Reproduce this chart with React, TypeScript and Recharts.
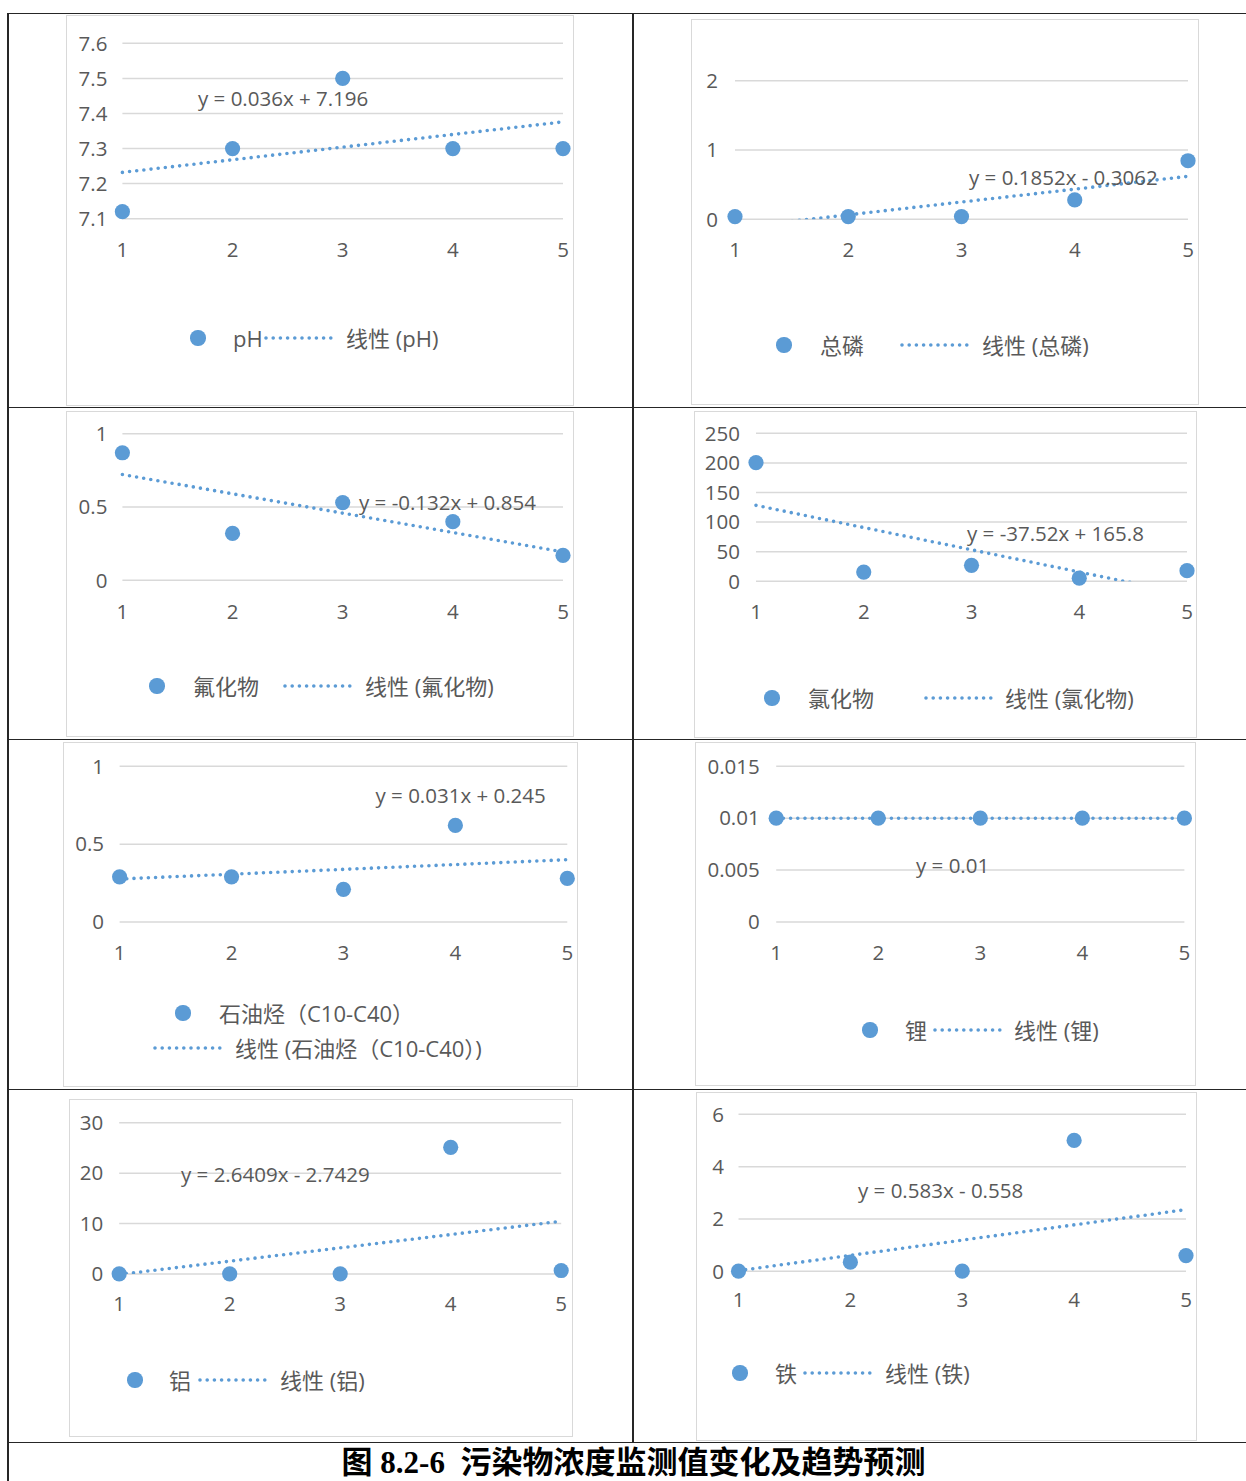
import { ComposedChart, Scatter, Line, XAxis, YAxis, CartesianGrid } from 'recharts';

// sampling rounds 1..5
const xTicks = [1, 2, 3, 4, 5];

// monitored values per pollutant
const phValues = [7.12, 7.3, 7.5, 7.3, 7.3];
const phosphorusValues = [0.04, 0.04, 0.04, 0.28, 0.845];
const fluorideValues = [0.87, 0.32, 0.53, 0.4, 0.17];
const chlorideValues = [200.5, 15.5, 27, 5.2, 18];
const petroleumValues = [0.29, 0.29, 0.21, 0.62, 0.28];
const lithiumValues = [0.01, 0.01, 0.01, 0.01, 0.01];
const aluminumValues = [0.03, 0.03, 0.03, 25.12, 0.69];
const ironValues = [0.005, 0.35, 0.005, 5.0, 0.6];

// y axis ticks
const phTicks = [7.1, 7.2, 7.3, 7.4, 7.5, 7.6];
const phosphorusTicks = [0, 1, 2];
const fluorideTicks = [0, 0.5, 1];
const chlorideTicks = [0, 50, 100, 150, 200, 250];
const petroleumTicks = [0, 0.5, 1];
const lithiumTicks = [0, 0.005, 0.01, 0.015];
const aluminumTicks = [0, 10, 20, 30];
const ironTicks = [0, 2, 4, 6];

// linear trend lines [slope, intercept] as printed on the charts
const phFit = [0.036, 7.196];
const phosphorusFit = [0.1852, -0.3062];
const fluorideFit = [-0.132, 0.854];
const chlorideFit = [-37.52, 165.8];
const petroleumFit = [0.031, 0.245];
const lithiumFit = [0, 0.01];
const aluminumFit = [2.6409, -2.7429];
const ironFit = [0.583, -0.558];

const names = ['pH', '总磷', '氟化物', '氯化物', '石油烃（C10-C40）', '锂', '铝', '铁'];
const equations = [
  'y = 0.036x + 7.196',
  'y = 0.1852x - 0.3062',
  'y = -0.132x + 0.854',
  'y = -37.52x + 165.8',
  'y = 0.031x + 0.245',
  'y = 0.01',
  'y = 2.6409x - 2.7429',
  'y = 0.583x - 0.558',
];

const BLUE = '#5b9bd5';
const TEXT = '#595959';
const GRID = '#d9d9d9';
const LINE = '#262626';
const LATIN = '"Open Sans", "Noto Sans CJK SC", sans-serif';
const DOTS = '0 7.2';

type Box = { x: number; y: number; w: number; h: number };
type Plot = { l: number; r: number; t: number; b: number };
type LegendPos = {
  cy: number;
  marker: number;
  t1: number;
  l1: number;
  l2: number;
  t2: number;
  cy2?: number;
};

type Panel = {
  values: number[];
  ticks: number[];
  fit: number[];
  name: string;
  equation: string;
  frame: Box;
  plot: Plot;
  yGap: number;
  xGap: number;
  eq: { x: number; cy: number };
  legend: LegendPos;
};

const panels: Panel[] = [
  {
    values: phValues, ticks: phTicks, fit: phFit, name: names[0], equation: equations[0],
    frame: { x: 66, y: 15, w: 508, h: 391 },
    plot: { l: 122.4, r: 563, t: 43.3, b: 218.7 },
    yGap: 15, xGap: 24, eq: { x: 198, cy: 97.7 },
    legend: { cy: 338, marker: 198, t1: 233, l1: 266, l2: 334, t2: 346 },
  },
  {
    values: phosphorusValues, ticks: phosphorusTicks, fit: phosphorusFit, name: names[1], equation: equations[1],
    frame: { x: 691, y: 19, w: 508, h: 386 },
    plot: { l: 735, r: 1188, t: 80.7, b: 219.3 },
    yGap: 17, xGap: 23, eq: { x: 969, cy: 177 },
    legend: { cy: 345, marker: 784, t1: 820, l1: 902, l2: 969, t2: 982 },
  },
  {
    values: fluorideValues, ticks: fluorideTicks, fit: fluorideFit, name: names[2], equation: equations[2],
    frame: { x: 66, y: 411, w: 508, h: 326 },
    plot: { l: 122.4, r: 563, t: 433.7, b: 580.3 },
    yGap: 15, xGap: 24, eq: { x: 359, cy: 502 },
    legend: { cy: 686, marker: 157, t1: 193, l1: 285, l2: 352, t2: 365 },
  },
  {
    values: chlorideValues, ticks: chlorideTicks, fit: chlorideFit, name: names[3], equation: equations[3],
    frame: { x: 694, y: 411, w: 503, h: 327 },
    plot: { l: 756, r: 1187, t: 433.3, b: 581.3 },
    yGap: 16, xGap: 23, eq: { x: 967, cy: 533 },
    legend: { cy: 698, marker: 772, t1: 808, l1: 926, l2: 994, t2: 1005 },
  },
  {
    values: petroleumValues, ticks: petroleumTicks, fit: petroleumFit, name: names[4], equation: equations[4],
    frame: { x: 63, y: 742, w: 515, h: 345 },
    plot: { l: 119.6, r: 567.3, t: 766.3, b: 922 },
    yGap: 15.6, xGap: 23, eq: { x: 375.5, cy: 795 },
    legend: { cy: 1013, marker: 183, t1: 219, l1: 155, l2: 222, t2: 235, cy2: 1048 },
  },
  {
    values: lithiumValues, ticks: lithiumTicks, fit: lithiumFit, name: names[5], equation: equations[5],
    frame: { x: 695, y: 742, w: 501, h: 344 },
    plot: { l: 776.2, r: 1184.4, t: 766.3, b: 922 },
    yGap: 16.5, xGap: 23, eq: { x: 916, cy: 865 },
    legend: { cy: 1030, marker: 870, t1: 905, l1: 935, l2: 1002, t2: 1014 },
  },
  {
    values: aluminumValues, ticks: aluminumTicks, fit: aluminumFit, name: names[6], equation: equations[6],
    frame: { x: 69, y: 1099, w: 504, h: 338 },
    plot: { l: 119.2, r: 561.2, t: 1122.7, b: 1274 },
    yGap: 16, xGap: 22, eq: { x: 181, cy: 1174 },
    legend: { cy: 1380, marker: 135, t1: 169, l1: 200, l2: 268, t2: 280 },
  },
  {
    values: ironValues, ticks: ironTicks, fit: ironFit, name: names[7], equation: equations[7],
    frame: { x: 696, y: 1092, w: 501, h: 349 },
    plot: { l: 738.5, r: 1186, t: 1114.3, b: 1271.3 },
    yGap: 14.5, xGap: 21, eq: { x: 858, cy: 1190 },
    legend: { cy: 1373, marker: 740, t1: 775, l1: 805, l2: 872, t2: 885 },
  },
];

const Y_W = 30;
const X_H = 30;

const Dot = (props: any) => {
  if (props.cx == null || props.cy == null) return null;
  return <circle cx={props.cx} cy={props.cy} r={7.6} fill={BLUE} />;
};

const legendText = (x: number, cy: number, text: string) => (
  <div
    style={{
      position: 'absolute',
      left: x,
      top: cy - 16,
      height: 32,
      lineHeight: '32px',
      fontSize: 22,
      fontFamily: LATIN,
      color: TEXT,
      whiteSpace: 'pre',
    }}
  >
    {text}
  </div>
);

const TrendPanel = ({ p }: { p: Panel }) => {
  const points = xTicks.map((x, i) => ({ x, y: p.values[i] }));
  const trend = [xTicks[0], xTicks[xTicks.length - 1]].map((x) => ({ x, fit: p.fit[0] * x + p.fit[1] }));
  const domain: [number, number] = [p.ticks[0], p.ticks[p.ticks.length - 1]];
  const { frame, plot, legend } = p;
  const margin = {
    left: plot.l - frame.x - Y_W,
    right: frame.x + frame.w - plot.r,
    top: plot.t - frame.y,
    bottom: frame.y + frame.h - plot.b - X_H,
  };
  const tick = { fill: TEXT, fontSize: 20.5, fontFamily: LATIN };
  const lg2cy = legend.cy2 ?? legend.cy;

  return (
    <>
      <div
        style={{
          position: 'absolute',
          left: frame.x,
          top: frame.y,
          width: frame.w,
          height: frame.h,
          border: `1.5px solid ${GRID}`,
          boxSizing: 'border-box',
        }}
      />
      <div style={{ position: 'absolute', left: frame.x, top: frame.y }}>
        <ComposedChart width={frame.w} height={frame.h} margin={margin}>
          <CartesianGrid vertical={false} stroke={GRID} strokeWidth={1.5} />
          <XAxis
            dataKey="x"
            type="number"
            domain={[1, 5]}
            ticks={xTicks}
            interval={0}
            axisLine={false}
            tickLine={false}
            tickSize={0}
            tickMargin={p.xGap}
            height={X_H}
            tick={tick}
          />
          <YAxis
            dataKey="y"
            type="number"
            domain={domain}
            ticks={p.ticks}
            interval={0}
            axisLine={false}
            tickLine={false}
            tickSize={0}
            tickMargin={p.yGap}
            width={Y_W}
            tick={tick}
          />
          <YAxis yAxisId="fit" dataKey="fit" type="number" domain={domain} allowDataOverflow hide />
          <Line
            yAxisId="fit"
            data={trend}
            dataKey="fit"
            stroke={BLUE}
            strokeWidth={3.6}
            strokeDasharray={DOTS}
            strokeLinecap="round"
            dot={false}
            activeDot={false}
            isAnimationActive={false}
          />
          <Scatter data={points} dataKey="y" fill={BLUE} shape={Dot} isAnimationActive={false} />
        </ComposedChart>
      </div>
      <div
        style={{
          position: 'absolute',
          left: p.eq.x,
          top: p.eq.cy - 14,
          height: 28,
          lineHeight: '28px',
          fontSize: 20.5,
          fontFamily: LATIN,
          color: TEXT,
          whiteSpace: 'pre',
        }}
      >
        {p.equation}
      </div>
      <div
        style={{
          position: 'absolute',
          left: legend.marker - 7.6,
          top: legend.cy - 7.6,
          width: 15.2,
          height: 15.2,
          borderRadius: '50%',
          background: BLUE,
        }}
      />
      {legendText(legend.t1, legend.cy, p.name)}
      <svg
        style={{ position: 'absolute', left: legend.l1 - 2, top: lg2cy - 4 }}
        width={legend.l2 - legend.l1 + 4}
        height={8}
      >
        <line
          x1={2}
          y1={4}
          x2={legend.l2 - legend.l1 + 2}
          y2={4}
          stroke={BLUE}
          strokeWidth={3.6}
          strokeDasharray={DOTS}
          strokeLinecap="round"
        />
      </svg>
      {legendText(legend.t2, lg2cy, `线性 (${p.name})`)}
    </>
  );
};

const hLine = (y: number, x1: number, x2: number) => (
  <div key={`h${y}`} style={{ position: 'absolute', left: x1, top: y - 0.75, width: x2 - x1, height: 1.5, background: LINE }} />
);
const vLine = (x: number, y1: number, y2: number) => (
  <div key={`v${x}`} style={{ position: 'absolute', left: x - 0.75, top: y1, width: 1.5, height: y2 - y1, background: LINE }} />
);

export default function App() {
  return (
    <div
      style={{
        position: 'absolute',
        left: 0,
        top: 0,
        width: 1246,
        height: 1481,
        background: '#fff',
        overflow: 'hidden',
      }}
    >
      {panels.map((p, i) => (
        <TrendPanel key={i} p={p} />
      ))}
      {hLine(13.5, 7, 1246)}
      {hLine(407.5, 7, 1246)}
      {hLine(739.5, 7, 1246)}
      {hLine(1089.5, 7, 1246)}
      {hLine(1442.5, 7, 1246)}
      {vLine(8, 13, 1481)}
      {vLine(633, 13, 1443)}
      <div
        style={{
          position: 'absolute',
          left: 0,
          width: 1267,
          top: 1446,
          height: 34,
          lineHeight: '34px',
          textAlign: 'center',
          fontSize: 31,
          fontWeight: 700,
          fontFamily: '"Liberation Serif", "Noto Sans CJK SC", serif',
          color: '#000',
          whiteSpace: 'pre',
        }}
      >
        {'图 8.2-6  污染物浓度监测值变化及趋势预测'}
      </div>
    </div>
  );
}
